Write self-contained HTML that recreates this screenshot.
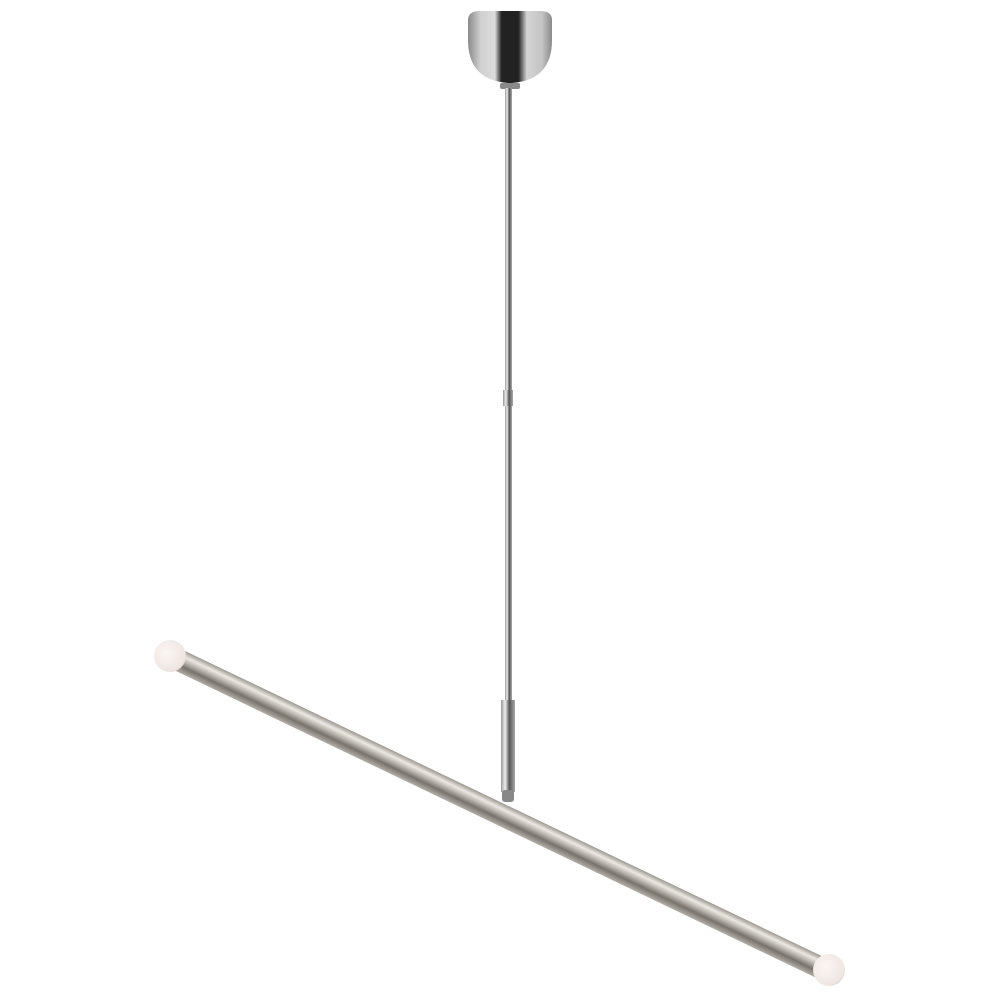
<!DOCTYPE html>
<html><head><style>html,body{margin:0;padding:0;background:#fff;width:1000px;height:1000px;overflow:hidden}</style></head>
<body>
<svg width="1000" height="1000" viewBox="0 0 1000 1000" xmlns="http://www.w3.org/2000/svg">
<defs>
<linearGradient id="can" x1="0" x2="1" y1="0" y2="0">
<stop offset="0" stop-color="#8a8a8a"/><stop offset="0.15" stop-color="#d0d0d0"/><stop offset="0.32" stop-color="#dcdcdc"/><stop offset="0.4" stop-color="#222"/><stop offset="0.6" stop-color="#222"/><stop offset="0.7" stop-color="#d4d4d4"/><stop offset="0.88" stop-color="#c4c4c4"/><stop offset="1" stop-color="#8a8a8a"/>
</linearGradient>
<linearGradient id="stem" x1="0" x2="1">
<stop offset="0" stop-color="#999"/><stop offset="0.3" stop-color="#eee"/><stop offset="0.6" stop-color="#555"/><stop offset="1" stop-color="#aaa"/>
</linearGradient>
<linearGradient id="bar" gradientUnits="userSpaceOnUse" x1="0" y1="-11" x2="0" y2="11">
<stop offset="0" stop-color="#9a968f"/><stop offset="0.25" stop-color="#ece9e4"/><stop offset="0.45" stop-color="#bdb8b0"/><stop offset="0.7" stop-color="#77736c"/><stop offset="1" stop-color="#b3afa8"/>
</linearGradient>
<radialGradient id="glob" cx="0.4" cy="0.4" r="0.7">
<stop offset="0" stop-color="#fbf6f3"/><stop offset="0.8" stop-color="#efe6e2"/><stop offset="1" stop-color="#d9d0cc"/>
</radialGradient>
</defs>
<path d="M468 20 Q468 11 480 11 L540 11 Q552 11 552 20 L552 40 Q552 80 512 83 L508 83 Q468 80 468 40 Z" fill="url(#can)"/>
<rect x="500" y="83" width="20" height="6" rx="2" fill="#8a8a8a"/>
<rect x="505" y="88" width="7" height="612" fill="url(#stem)"/>
<rect x="503" y="390" width="10" height="16" fill="url(#stem)"/>
<rect x="501" y="700" width="14" height="92" fill="url(#stem)"/>
<rect x="502" y="790" width="12" height="12" rx="3" fill="#888"/>
<g transform="translate(170 656) rotate(25.6)">
<rect x="0" y="-11" width="730" height="22" fill="url(#bar)"/>
</g>
<circle cx="170" cy="656" r="16" fill="url(#glob)"/>
<circle cx="829" cy="970" r="16" fill="url(#glob)"/>
</svg>
</body></html>
